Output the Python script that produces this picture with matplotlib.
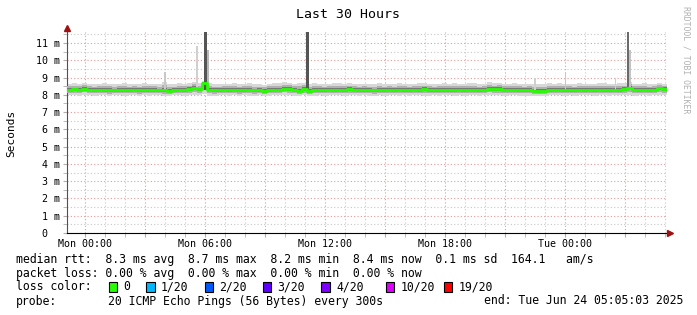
import numpy as np
import pandas as pd
import matplotlib
matplotlib.use("Agg")
import matplotlib.pyplot as plt
import matplotlib.dates as mdates
from matplotlib.ticker import FuncFormatter, MultipleLocator
from matplotlib.patches import Rectangle

# 30 hours ending Tue Jun 24 05:05:03 2025, 15 minute buckets
start = pd.Timestamp("2025-06-22 23:05:03")
times = pd.date_range(start, periods=121, freq="15min")

# median rtt (ms)
median_ms = [
    8.30, 8.32, 8.31, 8.34, 8.30, 8.28, 8.29, 8.27, 8.28, 8.26,
    8.27, 8.29, 8.28, 8.30, 8.27, 8.28, 8.29, 8.27, 8.26, 8.28,
    8.24, 8.27, 8.29, 8.28, 8.33, 8.38, 8.32, 8.70, 8.30, 8.27,
    8.28, 8.30, 8.28, 8.29, 8.27, 8.28, 8.30, 8.26, 8.28, 8.20,
    8.27, 8.29, 8.30, 8.36, 8.35, 8.30, 8.24, 8.32, 8.22, 8.29,
    8.28, 8.27, 8.29, 8.28, 8.30, 8.28, 8.32, 8.30, 8.28, 8.27,
    8.27, 8.26, 8.28, 8.27, 8.29, 8.27, 8.30, 8.28, 8.27, 8.29,
    8.28, 8.33, 8.30, 8.28, 8.29, 8.27, 8.29, 8.28, 8.30, 8.29,
    8.28, 8.30, 8.27, 8.29, 8.33, 8.32, 8.34, 8.30, 8.29, 8.30,
    8.28, 8.30, 8.29, 8.24, 8.22, 8.25, 8.27, 8.28, 8.30, 8.29,
    8.28, 8.27, 8.29, 8.28, 8.30, 8.28, 8.29, 8.27, 8.28, 8.30,
    8.29, 8.32, 8.42, 8.30, 8.28, 8.29, 8.28, 8.30, 8.38, 8.36,
]
# fastest / slowest ping per bucket (ms)
low_ms = [
    7.98, 8.00, 7.96, 8.02, 7.98, 7.95, 8.00, 7.97, 7.94, 7.98,
    8.00, 7.96, 7.98, 8.00, 7.95, 7.98, 7.96, 8.00, 7.97, 7.93,
    7.96, 7.98, 8.00, 7.96, 7.98, 8.02, 7.98, 8.05, 7.96, 7.94,
    7.98, 8.00, 7.96, 7.98, 7.95, 7.99, 7.96, 7.94, 7.98, 7.92,
    7.96, 7.98, 8.00, 8.02, 7.98, 7.96, 7.94, 7.98, 7.92, 7.96,
    7.98, 7.96, 8.00, 7.97, 7.98, 7.95, 8.00, 7.97, 7.95, 7.98,
    7.96, 7.94, 7.98, 7.96, 8.00, 7.97, 7.95, 7.98, 7.96, 8.00,
    7.98, 7.96, 7.94, 7.98, 7.96, 8.00, 7.97, 7.95, 7.98, 7.96,
    8.00, 7.98, 7.96, 7.98, 8.02, 8.00, 7.98, 7.96, 7.98, 8.00,
    7.96, 7.94, 7.95, 7.92, 7.94, 7.96, 7.98, 8.00, 7.97, 7.95,
    7.98, 7.96, 8.00, 7.97, 7.98, 7.96, 7.98, 8.00, 7.96, 7.98,
    7.97, 8.00, 8.02, 7.96, 7.98, 8.00, 7.96, 7.98, 8.02, 7.98,
]
high_ms = [
    8.62, 8.66, 8.60, 8.68, 8.63, 8.60, 8.65, 8.70, 8.62, 8.60,
    8.64, 8.66, 8.61, 8.63, 8.60, 8.66, 8.62, 8.64, 8.60, 8.72,
    8.62, 8.60, 8.66, 8.63, 8.68, 8.75, 8.66, 8.80, 8.68, 8.62,
    8.60, 8.65, 8.62, 8.66, 8.60, 8.63, 8.68, 8.62, 8.60, 8.58,
    8.64, 8.66, 8.70, 8.72, 8.68, 8.64, 8.66, 8.70, 8.60, 8.66,
    8.62, 8.60, 8.64, 8.66, 8.70, 8.62, 8.68, 8.64, 8.60, 8.63,
    8.62, 8.60, 8.66, 8.62, 8.64, 8.60, 8.66, 8.62, 8.60, 8.64,
    8.68, 8.66, 8.62, 8.60, 8.64, 8.68, 8.62, 8.66, 8.64, 8.62,
    8.66, 8.70, 8.62, 8.64, 8.72, 8.68, 8.70, 8.64, 8.62, 8.66,
    8.64, 8.60, 8.62, 8.64, 8.60, 8.62, 8.66, 8.64, 8.68, 8.62,
    8.64, 8.60, 8.66, 8.62, 8.64, 8.62, 8.66, 8.70, 8.64, 8.62,
    8.66, 8.68, 8.72, 8.64, 8.62, 8.66, 8.60, 8.64, 8.66, 8.62,
]

# short outliers: time, top (ms), grey
spike_time = ["2025-06-23 03:56", "2025-06-23 05:32", "2025-06-23 05:57",
              "2025-06-23 06:05", "2025-06-23 11:02", "2025-06-23 22:26",
              "2025-06-23 23:58", "2025-06-24 02:28", "2025-06-24 03:06",
              "2025-06-24 03:12"]
spike_top = [9.35, 10.85, 11.8, 10.6, 11.8, 8.95, 9.3, 9.0, 11.8, 10.6]
spike_grey = ["#c8c8c8", "#d0d0d0", "#555555", "#b8b8b8", "#555555",
              "#d0d0d0", "#c8c8c8", "#d0d0d0", "#6a6a6a", "#c4c4c4"]
spike_width_h = [0.08, 0.08, 0.12, 0.08, 0.16, 0.08, 0.08, 0.08, 0.1, 0.06]

loss_labels = ["0", "1/20", "2/20", "3/20", "4/20", "10/20", "19/20"]
loss_colors = ["#26ff00", "#00b8ff", "#0059ff", "#5e00ff", "#7e00ff",
               "#dd00ff", "#ff0000"]

mono = "DejaVu Sans Mono"
W, H = 697, 315

fig = plt.figure(figsize=(W / 100, H / 100), dpi=100)
ax = fig.add_axes([67 / W, (H - 233) / H, 600 / W, 201 / H])

med = np.append(median_ms, median_ms[-1])
lo = np.append(low_ms, low_ms[-1])
hi = np.append(high_ms, high_ms[-1])
t = times.to_numpy()

# smoke: layered greys from outer to inner
ax.fill_between(t, lo, hi, step="post", color="#d8d8d8", lw=0, zorder=2)
ax.fill_between(t, med - 0.6 * (med - lo), med + 0.6 * (hi - med),
                step="post", color="#b0b0b0", lw=0, zorder=3)
ax.fill_between(t, med - 0.3 * (med - lo), med + 0.3 * (hi - med),
                step="post", color="#777777", lw=0, zorder=4)

for st, top, grey, wd in zip(spike_time, spike_top, spike_grey, spike_width_h):
    x0 = mdates.date2num(pd.Timestamp(st))
    ax.bar(x0, top - 8.3, bottom=8.3, width=wd / 24, color=grey, lw=0,
           align="edge", zorder=5)

ax.step(t, med, where="post", color=loss_colors[0], lw=2.0, zorder=6)

ax.set_xlim(t[0], t[0] + np.timedelta64(30, "h"))
ax.set_ylim(0, 11.64)

ax.xaxis.set_major_locator(mdates.HourLocator(byhour=range(0, 24, 3)))
ax.xaxis.set_minor_locator(mdates.HourLocator())


def xfmt(v, pos):
    d = mdates.num2date(v)
    return d.strftime("%a %H:%M") if d.hour % 6 == 0 else ""


ax.xaxis.set_major_formatter(FuncFormatter(xfmt))
ax.yaxis.set_major_locator(MultipleLocator(1))
ax.yaxis.set_minor_locator(MultipleLocator(0.5))
ax.yaxis.set_major_formatter(FuncFormatter(
    lambda v, pos: "0  " if v == 0 else "%d m" % v))

ax.grid(which="major", color="#e89898", ls=(0, (1, 2)), lw=0.8)
ax.grid(which="minor", color="#c8c8c8", ls=(0, (1, 2)), lw=0.8)
ax.set_axisbelow(True)

for s in ["top", "right"]:
    ax.spines[s].set_visible(False)
ax.spines["left"].set_color("#505050")
ax.spines["bottom"].set_color("black")
ax.tick_params(which="both", length=3, color="#b0b0b0", pad=2)
ax.tick_params(axis="x", labelsize=7.2, pad=1.5)
ax.tick_params(axis="y", labelsize=7.2)
for lab in ax.get_xticklabels() + ax.get_yticklabels():
    lab.set_family(mono)

# axis arrows
ax.plot([1.005], [0], marker=">", ms=4, color="#a01010", transform=ax.transAxes,
        clip_on=False, zorder=7)
ax.plot([0], [1.02], marker="^", ms=4, color="#a01010", transform=ax.transAxes,
        clip_on=False, zorder=7)

fig.text(348 / W, 1 - 14 / H, "Last 30 Hours", family=mono, fontsize=9.5,
         ha="center", va="center")
fig.text(11 / W, 1 - 133 / H, "Seconds", family=mono, fontsize=8,
         rotation=90, ha="center", va="center")
fig.text(686 / W, 1 - 60 / H, "RRDTOOL / TOBI OETIKER", family=mono,
         fontsize=5.9, rotation=270, color="#b0b0b0", ha="center", va="center")

fs = 8.3
rows = [259, 273, 287, 301]
fig.text(16 / W, 1 - rows[0] / H,
         "median rtt:  8.3 ms avg  8.7 ms max  8.2 ms min  8.4 ms now  "
         "0.1 ms sd  164.1   am/s", family=mono, fontsize=fs, va="center")
fig.text(16 / W, 1 - rows[1] / H,
         "packet loss: 0.00 % avg  0.00 % max  0.00 % min  0.00 % now",
         family=mono, fontsize=fs, va="center")
fig.text(16 / W, 1 - rows[2] / H, "loss color:", family=mono, fontsize=fs,
         va="center")
sq_x = [108.5, 146, 204.5, 262.5, 321, 385.5, 444]
for x0, lab, col in zip(sq_x, loss_labels, loss_colors):
    fig.patches.append(Rectangle((x0 / W, 1 - (rows[2] + 4.5) / H), 8.5 / W,
                                 9.5 / H, transform=fig.transFigure,
                                 facecolor=col, edgecolor="black", lw=0.8))
    fig.text((x0 + 15) / W, 1 - rows[2] / H, lab, family=mono, fontsize=fs,
             va="center")
fig.text(16 / W, 1 - rows[3] / H, "probe:", family=mono, fontsize=fs,
         va="center")
fig.text(108 / W, 1 - rows[3] / H, "20 ICMP Echo Pings (56 Bytes) every 300s",
         family=mono, fontsize=fs, va="center")
fig.text(683 / W, 1 - rows[3] / H, "end: Tue Jun 24 05:05:03 2025",
         family=mono, fontsize=fs, va="center", ha="right")

fig.savefig("out.png", dpi=100, facecolor="white")
